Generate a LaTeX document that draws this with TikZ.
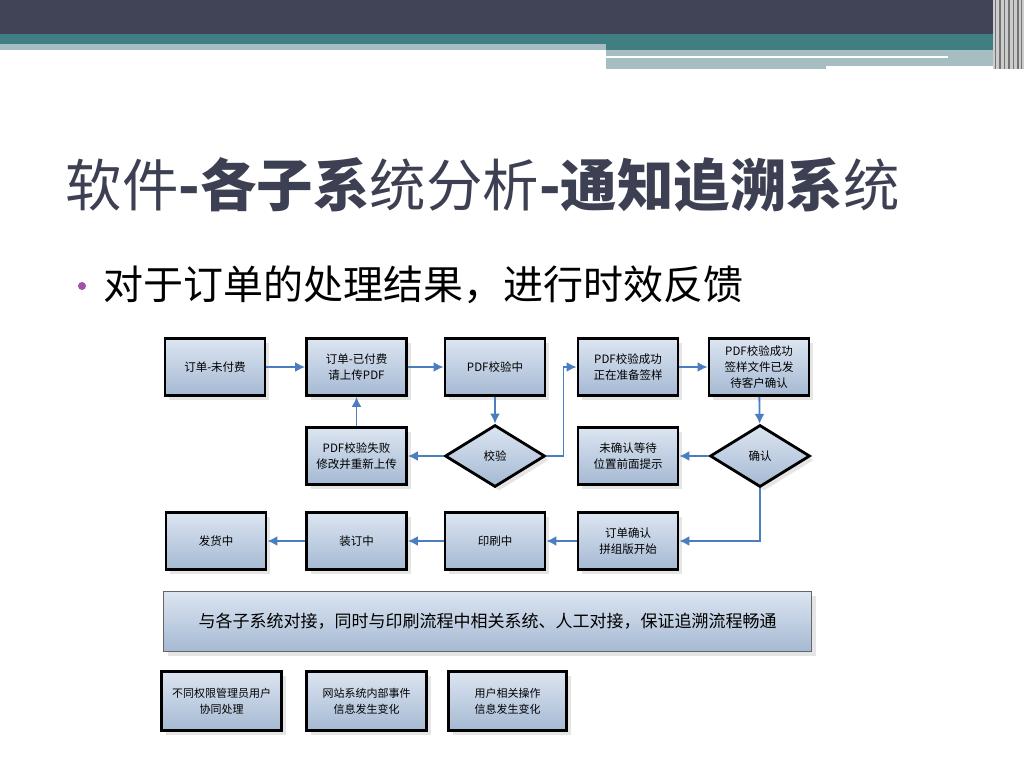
\documentclass[tikz,border=0pt]{standalone}
\usepackage{fontspec}
\setmainfont{Noto Sans CJK SC}
\usetikzlibrary{shapes.geometric,shadows,arrows.meta}

\definecolor{barDark}{HTML}{414456}
\definecolor{barTeal}{HTML}{3F7E82}
\definecolor{barLight}{HTML}{A6BEC2}
\definecolor{titleInk}{HTML}{3D4052}
\definecolor{dotPurple}{HTML}{A24FAD}
\definecolor{flowBlue}{HTML}{4A7EBF}
\definecolor{boxTop}{HTML}{DCE5F1}
\definecolor{boxBot}{HTML}{A5B9D3}

\tikzset{
  statebox/.style={draw=black, line width=2.8pt, top color=boxTop, bottom color=boxBot,
    minimum width=100pt, minimum height=57pt, inner sep=1pt, align=center,
    font=\fontsize{11.5}{16}\selectfont,
    drop shadow={shadow xshift=4pt, shadow yshift=-4pt, fill=black!25, opacity=.4}},
  checkdia/.style={statebox, diamond, minimum width=100pt, minimum height=62pt, inner sep=0pt},
  infobox/.style={statebox, minimum width=120pt, minimum height=59pt, font=\fontsize{11}{16}\selectfont},
  flowarrow/.style={-{Latex[length=10pt,width=10pt]}, draw=flowBlue, line width=1.8pt},
}

\begin{document}
\begin{tikzpicture}[x=1pt,y=-1pt]
                \useasboundingbox (0,0) rectangle (1024,768);

                % top bars
                \fill[barDark] (0,0) rectangle (1024,34);
                \fill[barTeal] (0,34) rectangle (993,44);
                \fill[barTeal] (606,44) rectangle (993,50);
                \fill[barLight] (0,44) rectangle (606,50);
                \fill[barLight] (606,50) rectangle (993,66);
                \fill[white] (606,56) rectangle (948,58);
                \fill[barLight] (606,66) rectangle (826,69);
                \fill[black!20] (993,0) rectangle (1024,69);
                \foreach \sx/\sw in {995/1.2,999/1.8,1004/1,1008/1.5,1013/1,1017/2,1021/1.2}
                    \fill[black!55] (\sx,0) rectangle ++(\sw,69);

                \node[anchor=base west, text=titleInk, font=\fontsize{56.5}{60}\selectfont] (title) at (62,206)
                    {软件\textbf{-各子系}统分析\textbf{-通知追溯系}统};
                \node[circle, fill=dotPurple, minimum size=8pt, inner sep=0pt] (dot) at (82,286) {};
                \node[anchor=base west, font=\fontsize{40}{42}\selectfont] (lead) at (100,299)
                    {对于订单的处理结果，进行时效反馈};

                % first row
                \node[statebox] (unpaid) at (215,367) {订单-未付费};
                \node[statebox] (paid) at (356.5,367) {订单-已付费\\请上传PDF};
                \node[statebox] (checking) at (495,367) {PDF校验中};
                \node[statebox] (prep) at (628,367) {PDF校验成功\\正在准备签样};
                \node[statebox] (sent) at (759,367) {PDF校验成功\\签样文件已发\\待客户确认};

                % second row
                \node[statebox] (fail) at (356.5,456) {PDF校验失败\\修改并重新上传};
                \node[checkdia] (check) at (495,456) {校验};
                \node[statebox] (wait) at (628,456) {未确认等待\\位置前面提示};
                \node[checkdia] (confirm) at (760,456) {确认};

                % third row
                \node[statebox] (layout) at (628,541) {订单确认\\拼组版开始};
                \node[statebox] (print) at (495,541) {印刷中};
                \node[statebox] (bind) at (356.5,541) {装订中};
                \node[statebox] (ship) at (216,541) {发货中};

                \node[statebox, draw=black!60, line width=1.5pt, minimum width=648pt, minimum height=60pt,
                    font=\fontsize{17}{20}\selectfont] (link) at (487.5,621.5)
                    {与各子系统对接，同时与印刷流程中相关系统、人工对接，保证追溯流程畅通};

                \node[infobox] (admin) at (221.5,701) {不同权限管理员用户\\协同处理};
                \node[infobox] (site) at (366.5,701) {网站系统内部事件\\信息发生变化};
                \node[infobox, minimum width=118pt] (user) at (507.5,701) {用户相关操作\\信息发生变化};

                \draw[flowarrow] (unpaid) -- (paid);
                \draw[flowarrow] (paid) -- (checking);
                \draw[flowarrow] (checking) -- (check);
                \draw[flowarrow] (check) -- (fail);
                \draw[flowarrow] (fail) -- (paid);
                \draw[flowarrow] (check.east) -- ++(17,0) |- (prep.west);
                \draw[flowarrow] (prep) -- (sent);
                \draw[flowarrow] (sent) -- (confirm);
                \draw[flowarrow] (confirm) -- (wait);
                \draw[flowarrow] (confirm.south) |- (layout.east);
                \draw[flowarrow] (layout) -- (print);
                \draw[flowarrow] (print) -- (bind);
                \draw[flowarrow] (bind) -- (ship);

\end{tikzpicture}
\end{document}
